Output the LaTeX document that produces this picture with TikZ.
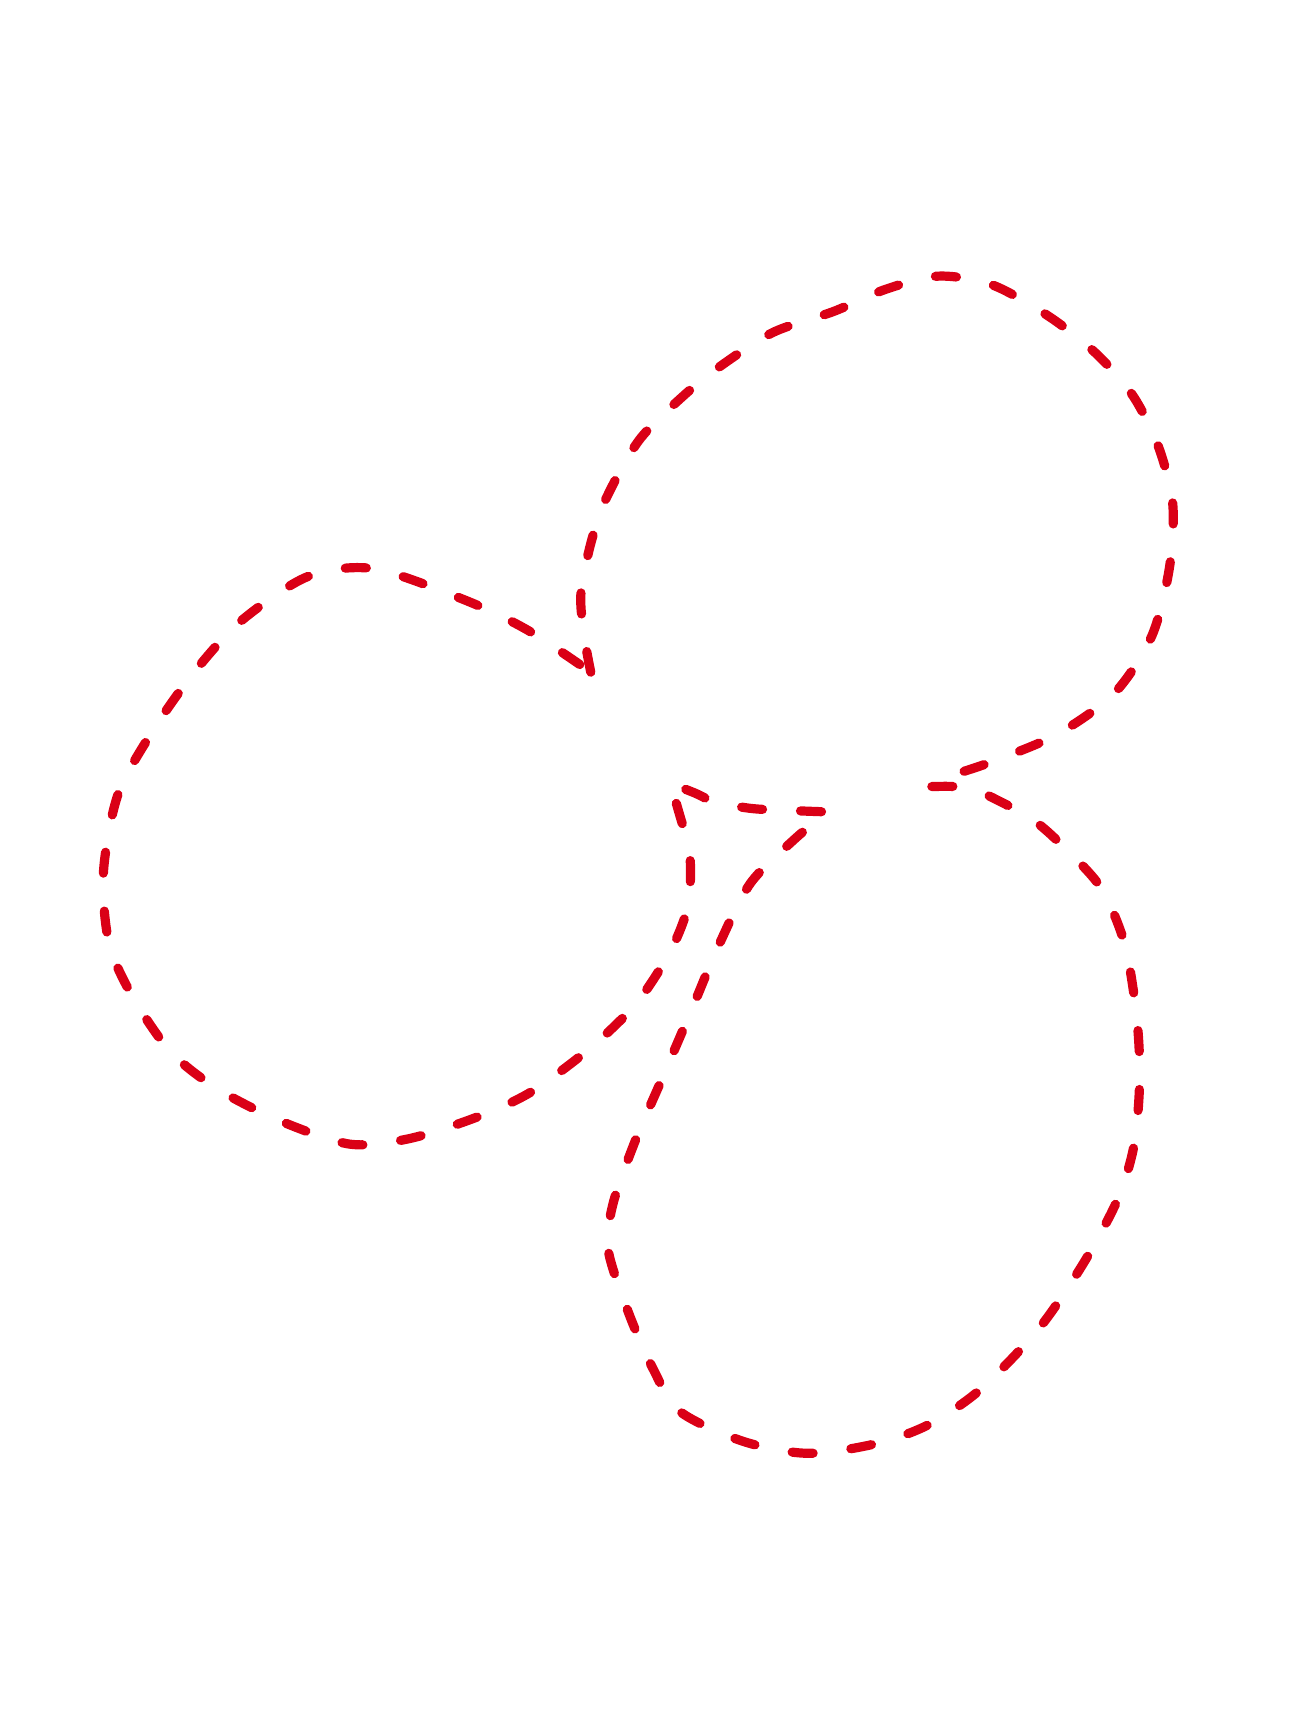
\documentclass[tikz,border=0pt]{standalone}
\usepackage{tikz}

\definecolor{inkred}{RGB}{218,0,22}
\tikzset{
  trail/.style={draw=inkred, line width=4.6pt, line cap=round, line join=round,
    dash pattern=on 10.5pt off 19pt},
}

\begin{document}
\begin{tikzpicture}[x=0.54985pt, y=-0.54985pt]

  % ---- page frame: 1174 x 1568, y grows downwards ----
  \useasboundingbox (0,0) rectangle (1174,1568);

  % ---- cusps where the loops meet ----
  \coordinate (cuspA) at (537,611);
  \coordinate (cuspB) at (846,715);
  \coordinate (cuspC) at (752,738);
  \coordinate (cuspD) at (609,712);

  % ---- one dashed stroke: top loop, bottom loop, inner hook, left loop ----
  \path[trail]
    plot[smooth] coordinates {(cuspA) (531,578) (528,540) (537,494) (551,453)
      (581,400) (621,360) (656,332) (703,302) (758,283) (805,263) (853,251)
      (902,259) (954,288) (997,322) (1030,360) (1053,406) (1066,458)
      (1063,516) (1047,578) (1013,630) (960,668) (900,693) (862,706) (cuspB)}
    -- plot[smooth] coordinates {(cuspB) (880,716) (910,729) (940,746)
      (965,768) (1000,806) (1022,857) (1033,922) (1036,980) (1031,1040)
      (1016,1090) (985,1148) (944,1208) (890,1264) (842,1296) (793,1313)
      (733,1321) (675,1310) (618,1283) (594,1245) (572,1195) (553,1137)
      (557,1095) (577,1038) (602,980) (629,917) (653,860) (682,803)
      (722,763) (cuspC)}
    -- plot[smooth] coordinates {(cuspC) (725,737) (684,735) (650,729)
      (632,721) (cuspD)}
    -- plot[smooth] coordinates {(cuspD) (617,738) (627,777) (626,820)
      (615,853) (598,884) (575,916) (535,954) (482,993) (432,1016)
      (372,1035) (318,1040) (255,1019) (198,990) (155,956) (120,905)
      (99,857) (94,793) (108,720) (145,655) (183,603) (222,562) (280,524)
      (340,517) (424,546) (480,573) (cuspA)};

\end{tikzpicture}
\end{document}
